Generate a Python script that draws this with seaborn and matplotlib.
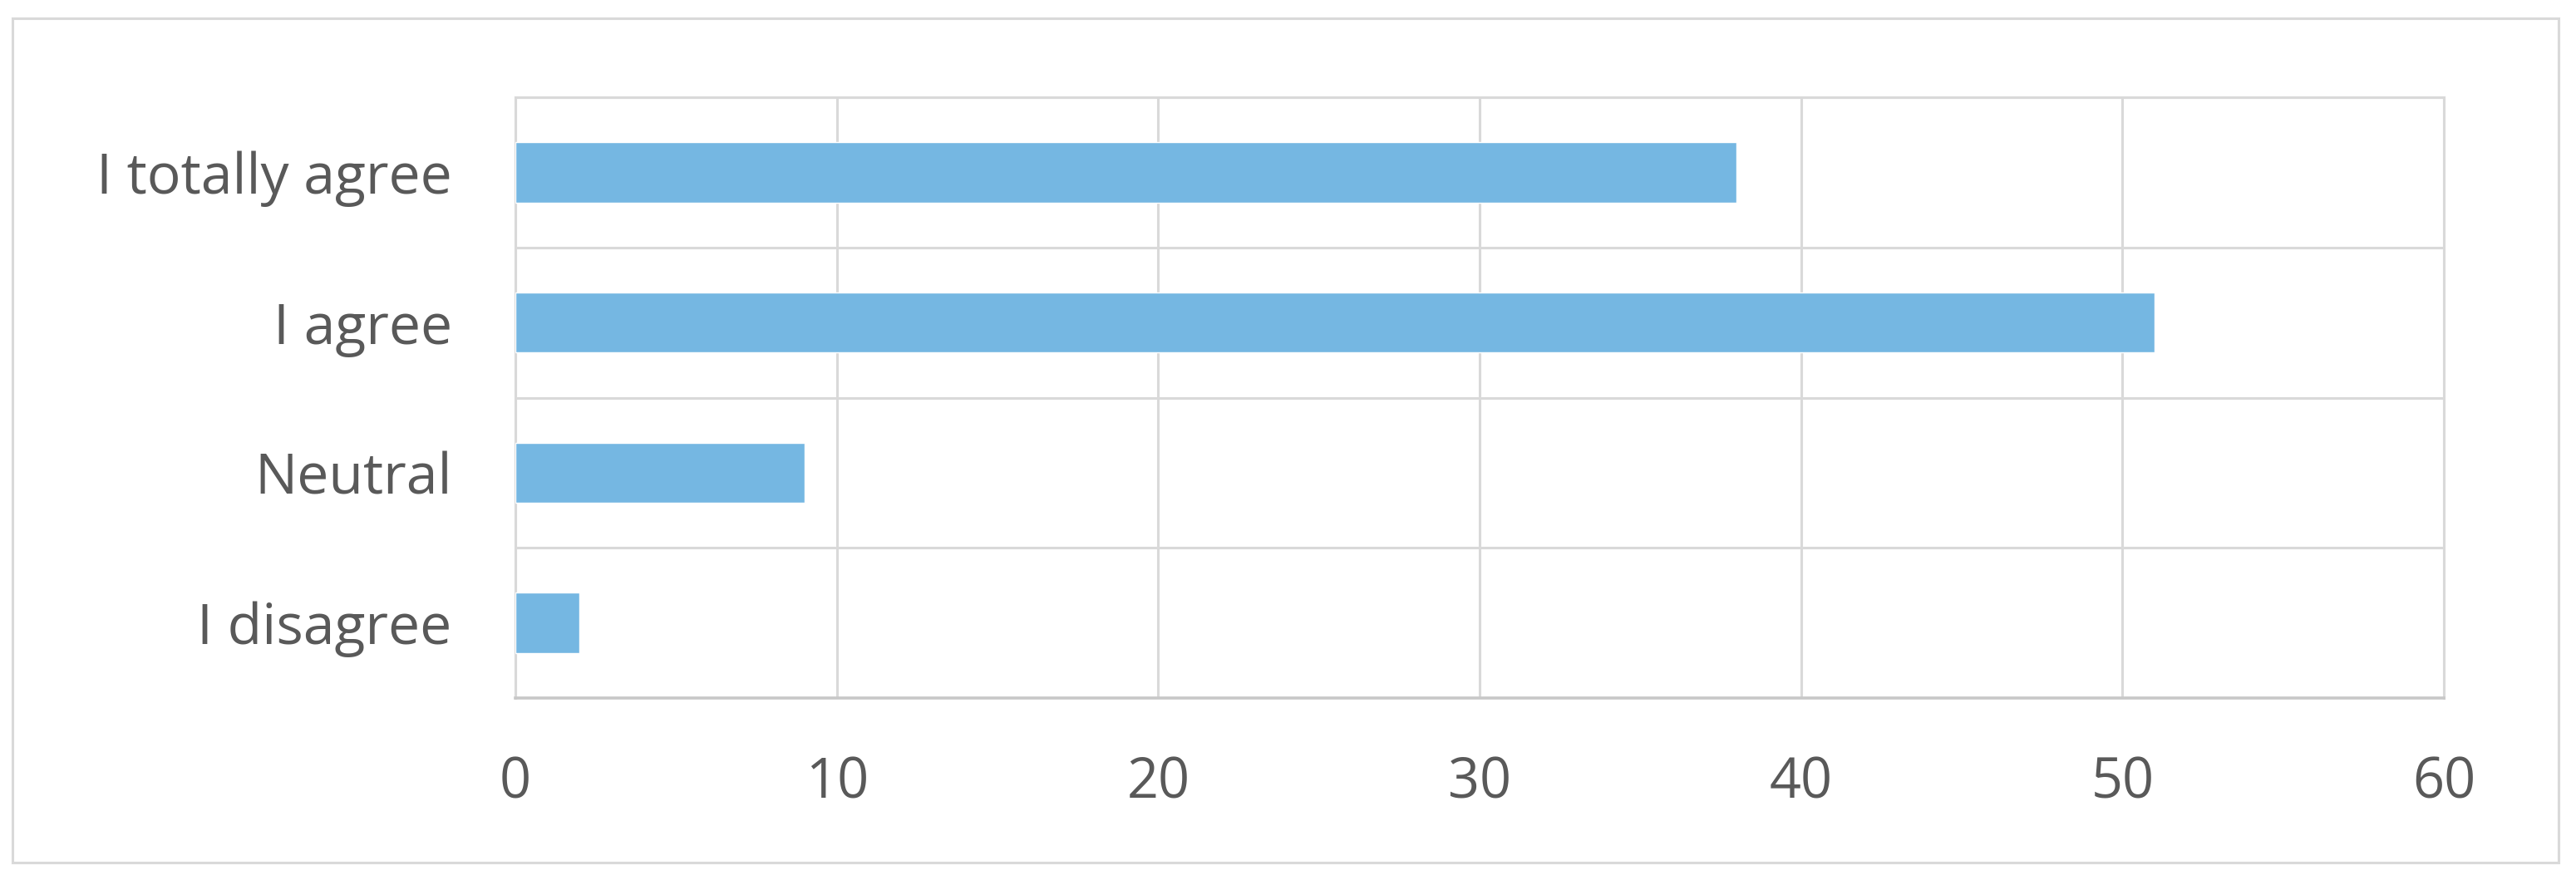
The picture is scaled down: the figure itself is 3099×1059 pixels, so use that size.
import matplotlib
matplotlib.use("Agg")
import matplotlib.pyplot as plt
from matplotlib.patches import Rectangle
import seaborn as sns

# survey answers, top to bottom as shown
categories = ["I totally agree", "I agree", "Neutral", "I disagree"]
counts = [38, 51, 9, 2]
x_ticks = [0, 10, 20, 30, 40, 50, 60]

BAR_COLOR = "#75B7E2"
GRID_COLOR = "#D9D9D9"
TEXT_COLOR = "#595959"

sns.set_style("white")
plt.rcParams["font.family"] = ["Open Sans", "DejaVu Sans"]

fig = plt.figure(figsize=(30.99, 10.59), dpi=100)
ax = fig.add_axes([0.2001, 0.2068, 0.9487 - 0.2001, 0.8895 - 0.2068])

sns.barplot(x=counts, y=categories, orient="h", color=BAR_COLOR,
            saturation=1, width=0.4, ax=ax, zorder=3)

ax.set_xlim(0, 60)
ax.set_ylim(len(categories) - 0.5, -0.5)
ax.set_xticks(x_ticks)
ax.set_xticklabels([str(t) for t in x_ticks])

# category boundaries as horizontal gridlines
ax.set_yticks([i - 0.5 for i in range(len(categories) + 1)], minor=True)
ax.grid(axis="x", which="major", color=GRID_COLOR, linewidth=2.2, zorder=0)
ax.grid(axis="y", which="minor", color=GRID_COLOR, linewidth=2.2, zorder=0)
ax.grid(axis="y", which="major", visible=False)
ax.set_axisbelow(True)

ax.tick_params(axis="both", which="both", length=0, labelcolor=TEXT_COLOR)
ax.tick_params(axis="x", labelsize=48, pad=50)
ax.tick_params(axis="y", labelsize=49, pad=55)
ax.set_xlabel("")
ax.set_ylabel("")

for side in ["top", "right", "left"]:
    ax.spines[side].set_color(GRID_COLOR)
    ax.spines[side].set_linewidth(2.2)
ax.spines["bottom"].set_color("#C8C8C8")
ax.spines["bottom"].set_linewidth(2.6)

# light outer chart border
fig.add_artist(Rectangle((15 / 3099, 1 - 1038 / 1059), (3078 - 15) / 3099,
                         (1038 - 22) / 1059, transform=fig.transFigure,
                         fill=False, edgecolor=GRID_COLOR, linewidth=2.2))

fig.savefig("out.png", dpi=100, facecolor="white")
